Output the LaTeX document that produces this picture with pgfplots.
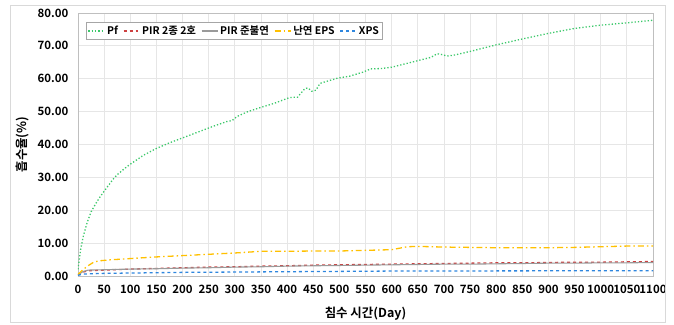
\documentclass[border=0pt]{standalone}
\usepackage{pgfplots}
\pgfplotsset{compat=1.18}
\usepackage{fontspec}
\setmainfont{Noto Sans CJK KR}[BoldFont={Noto Sans CJK KR Bold}]
\usetikzlibrary{calc}
\definecolor{cpf}{HTML}{3CC86A}
\definecolor{cred}{HTML}{E03030}
\definecolor{cgray}{HTML}{9A9A9A}
\definecolor{corg}{HTML}{FFC000}
\definecolor{cblue}{HTML}{2E86DE}
\definecolor{cgrid}{HTML}{E6E6E6}
\definecolor{caxis}{HTML}{BFBFBF}
\begin{document}
\begin{tikzpicture}[x=1bp,y=1bp]
\begin{axis}[
  scale only axis,
  width=575bp, height=263bp,
  xmin=0, xmax=1100, ymin=0, ymax=80,
  xtick={0,50,...,1100},
  ytick={0,10,...,80},
  grid=major,
  major grid style={cgrid, line width=0.8pt},
  axis line style={caxis, line width=0.8pt},
  tick style={draw=none},
  font=\fontsize{11.5}{13}\selectfont\bfseries,
  /pgf/number format/assume math mode=true,
  yticklabel style={/pgf/number format/fixed, /pgf/number format/fixed zerofill, /pgf/number format/precision=2, /pgf/number format/1000 sep={}, xshift=-6bp},
  xticklabel style={/pgf/number format/1000 sep={}, yshift=-6bp},
  scaled y ticks=false,
  xlabel={침수 시간(Day)},
  ylabel={흡수율(\%)},
  xlabel style={font=\fontsize{12.5}{14}\selectfont\bfseries, yshift=-6bp},
  ylabel style={font=\fontsize{12.5}{14}\selectfont\bfseries, yshift=2bp},
  legend columns=5,
  legend style={at={(0.014,0.965)}, anchor=north west, draw=gray!70,
    font=\fontsize{10.5}{13}\selectfont\bfseries, inner sep=1.5bp,
    /tikz/every even column/.append style={column sep=3bp}},
  legend image code/.code={\draw[#1] plot coordinates {(0bp,0bp) (8bp,0bp) (16bp,0bp)};},
]
\addplot[cpf, line width=1.3pt, dotted] coordinates {
(0,2) (5,8) (10,12) (17,16) (25,19.5) (35,22.3) (42,24) (50,25.8) (60,27.9) (67,29.4) (75,30.8) (90,32.8) (100,34) (113,35.4) (125,36.7) (150,38.8) (175,40.5) (200,42) (225,43.5) (258,45.5) (285,47) (295,47.3) (304,48.5) (325,50) (350,51.3) (375,52.5) (405,54.3) (420,54.4) (434,57) (440,57.2) (447,56.2) (455,56.5) (463,58.6) (480,59.4) (497,60.2) (520,60.8) (545,62) (560,63) (580,63.1) (600,63.5) (625,64.5) (650,65.5) (675,66.5) (687,67.6) (695,67.4) (706,66.9) (720,67.2) (750,68.3) (800,70.3) (850,72.1) (900,73.8) (950,75.3) (1000,76.3) (1050,77) (1100,77.8)
};
\addlegendentry{Pf}
\addplot[color=cred!80!gray, line width=1.3pt, dashed] coordinates {
(0,0.3) (10,1.2) (20,1.6) (50,1.8) (100,2.1) (150,2.3) (200,2.5) (250,2.7) (300,2.8) (350,3.0) (400,3.1) (450,3.3) (500,3.4) (550,3.5) (600,3.6) (650,3.7) (700,3.8) (750,3.9) (800,4.0) (850,4.0) (900,4.1) (950,4.2) (1000,4.2) (1050,4.3) (1100,4.4)
};
\addlegendentry{PIR 2종 2호}
\addplot[color=cgray, line width=1.1pt, solid] coordinates {
(0,0.3) (10,1.4) (20,1.8) (50,1.9) (100,2.1) (150,2.2) (200,2.4) (250,2.5) (300,2.7) (350,2.8) (400,3.0) (450,3.1) (500,3.2) (550,3.3) (600,3.4) (650,3.5) (700,3.6) (750,3.6) (800,3.7) (850,3.8) (900,3.9) (950,3.9) (1000,4.0) (1050,4.0) (1100,4.1)
};
\addlegendentry{PIR 준불연}
\addplot[color=corg, line width=1.3pt, dash pattern=on 6pt off 3pt on 1.5pt off 3pt] coordinates {
(0,0.5) (10,2) (20,3.2) (30,4.2) (40,4.6) (60,4.9) (100,5.3) (150,5.8) (200,6.2) (250,6.6) (300,7.0) (350,7.5) (400,7.5) (450,7.6) (500,7.6) (550,7.8) (600,8.0) (630,8.9) (650,9.0) (700,8.8) (750,8.7) (800,8.6) (850,8.6) (900,8.6) (950,8.7) (1000,8.9) (1050,9.1) (1100,9.1)
};
\addlegendentry{난연 EPS}
\addplot[color=cblue, line width=1.3pt, dashed] coordinates {
(0,0.2) (10,0.6) (50,0.8) (100,0.9) (150,1.0) (200,1.1) (250,1.15) (300,1.2) (350,1.25) (400,1.3) (450,1.35) (500,1.4) (550,1.45) (600,1.5) (650,1.5) (700,1.5) (750,1.5) (800,1.55) (850,1.55) (900,1.6) (950,1.6) (1000,1.6) (1050,1.6) (1100,1.6)
};
\addlegendentry{XPS}
\end{axis}
\draw[gray!30, line width=0.8pt] ($(current axis.south west)+(-68bp,-46bp)$) rectangle ($(current axis.north east)+(12bp,8bp)$);
\path[use as bounding box] ($(current axis.south west)+(-78bp,-49bp)$) rectangle ($(current axis.north east)+(21bp,13bp)$);
\end{tikzpicture}
\end{document}
